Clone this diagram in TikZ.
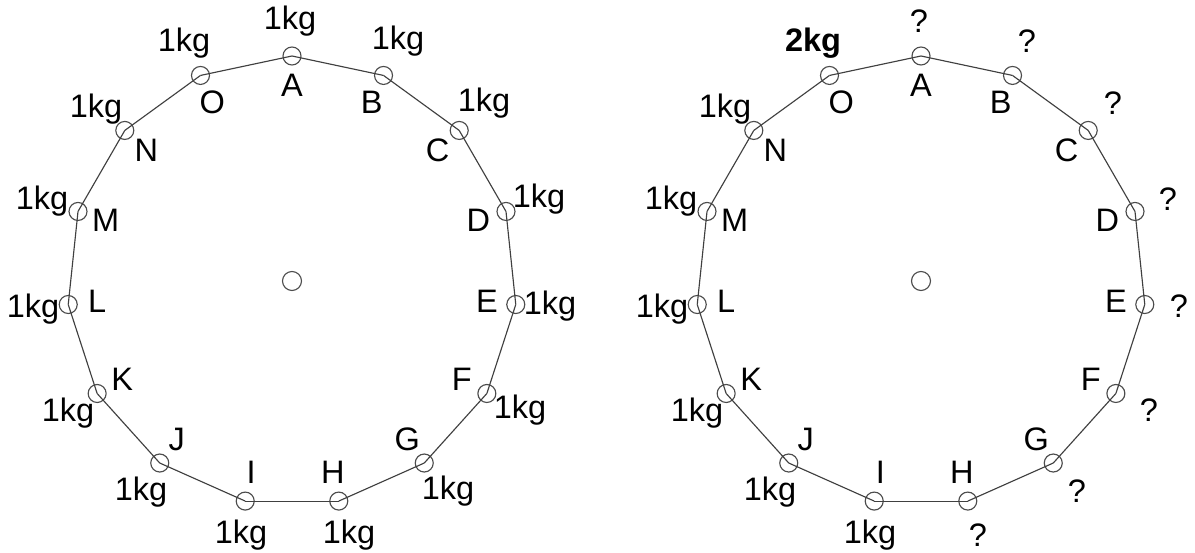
\documentclass[tikz,border=0pt]{standalone}
\usepackage{fontspec}
\setmainfont{Liberation Sans}
\usetikzlibrary{calc}

\begin{document}
\begin{tikzpicture}[
    x=0.02cm, y=0.02cm,
    lado/.style   = {draw=black!75, line width=0.65pt},
    vert/.style   = {circle, draw=black!70, line width=0.65pt, minimum size=0.36cm, inner sep=0pt},
    centro/.style = {vert, minimum size=0.38cm},
    letra/.style  = {font=\fontsize{18.5}{21}\selectfont, inner sep=0pt},
    masa/.style   = {font=\fontsize{18.5}{21}\selectfont, inner sep=0pt},
]
\useasboundingbox (0,0) rectangle (1195,553);

% --- Centros ---
\coordinate (ciz) at (292,272);
\coordinate (cde) at (921,272);
\node[centro] (hubiz) at (ciz) {};
\node[centro] (hubde) at (cde) {};

% --- Vertices, letras y masas ---
\foreach \v/\mx/\my/\txt [count=\k from 0] in {A/-2/260/?, B/106/240/?, C/192/178/?,
    D/247/82/?, E/258/-25/?, F/228/-129/?, G/156/-210/?, H/57/-254/?,
    I/-51/-254/1kg, J/-151/-211/1kg, K/-224/-132/1kg, L/-259/-28/1kg,
    M/-250/80/1kg, N/-196/172/1kg, O/-108/238/\textbf{2kg}} {
  \pgfmathsetmacro\ang{90-24*\k}
  \node[vert]  (iz\v)  at ($(ciz)+(\ang:225)$) {};
  \node[letra] (izl\v) at ($(ciz)+(\ang:196)$) {\v};
  \node[masa]  (izm\v) at ($(ciz)+(\mx,\my)$) {1kg};
  \node[vert]  (de\v)  at ($(cde)+(\ang:225)$) {};
  \node[letra] (del\v) at ($(cde)+(\ang:196)$) {\v};
  \node[masa]  (dem\v) at ($(cde)+(\mx,\my)$) {\txt};
}

% --- Lados ---
\foreach \a/\b in {A/B,B/C,C/D,D/E,E/F,F/G,G/H,H/I,I/J,J/K,K/L,L/M,M/N,N/O,O/A} {
  \draw[lado] (iz\a.center) -- (iz\b.center);
  \draw[lado] (de\a.center) -- (de\b.center);
}

\end{tikzpicture}
\end{document}
